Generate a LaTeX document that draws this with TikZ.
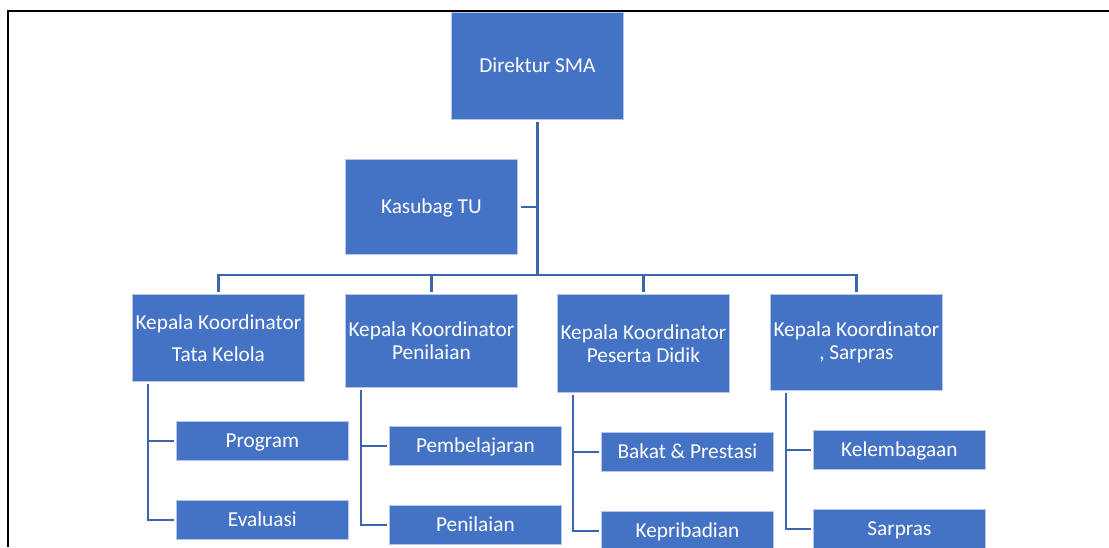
\documentclass[tikz,border=0pt]{standalone}
\usepackage{fontspec}
\setmainfont{Carlito}
\usepackage{tikz}
\definecolor{boxblue}{HTML}{4472C4}
\definecolor{boxedge}{HTML}{B4C7E7}
\definecolor{linkblue}{HTML}{3E64AE}
\tikzstyle{orgbox} = [rectangle,fill=boxblue,draw=boxedge,line width=0.8pt,text=white,align=center,
    inner sep=0pt,minimum width=172pt,anchor=north west,font=\fontsize{21.3pt}{23pt}\selectfont
]
\tikzstyle{oneline} = [orgbox,text height=16pt,text depth=3.5pt]
\tikzstyle{kidbox} = [oneline,minimum height=39pt]
\tikzstyle{link} = [draw=linkblue,line width=2.6pt,line cap=rect]
\newcommand{\kidlinks}[3]{
    \draw[link] ([xshift=16pt,yshift=-3pt]#1.south west) |- ([xshift=-3pt]#3.west);
    \draw[link] ([xshift=16pt]#1.south west |- #2.west) -- ([xshift=-3pt]#2.west);
}

\begin{document}
\begin{tikzpicture}[x=1pt,y=-1pt]
	\clip (0,0) rectangle (1109,547);
	\draw[line width=1.4pt] (8,547) |- (1109,11);
	
	\node(direktur) at (451,12) [oneline, minimum height=107pt] {Direktur SMA};
	\node(kasubag) at (345,159) [oneline, minimum height=95pt] {Kasubag TU};
	
	\node(kotatakelola) at (132,294) [orgbox, minimum height=87pt] {Kepala Koordinator\\[9pt]Tata Kelola};
	\node(kopenilaian) at (345,294) [orgbox, minimum height=93pt] {Kepala Koordinator\\Penilaian};
	\node(kopeserta) at (557,294) [orgbox, minimum height=98pt] {Kepala Koordinator\\Peserta Didik};
	\node(kosarpras) at (770,294) [orgbox, minimum height=96pt] {Kepala Koordinator\\, Sarpras};
	
	\node(program) at (176,421) [kidbox] {Program};
	\node(evaluasi) at (176,500) [kidbox] {Evaluasi};
	\node(pembelajaran) at (389,426) [kidbox] {Pembelajaran};
	\node(penilaian) at (389,505) [kidbox] {Penilaian};
	\node(bakat) at (601,432) [kidbox] {Bakat \& Prestasi};
	\node(kepribadian) at (601,511) [kidbox] {Kepribadian};
	\node(kelembagaan) at (813,430) [kidbox] {Kelembagaan};
	\node(sarpras) at (813,509) [kidbox] {Sarpras};
	
	\coordinate(bus) at (0,275);
	\draw[link] ([yshift=-3pt]direktur.south) -- (direktur.south |- bus);
	\draw[link] ([xshift=4pt]kasubag.east) -- (kasubag.east -| direktur.south);
	\draw[link] (kotatakelola.north |- bus) -- (kosarpras.north |- bus);
	\foreach \k in {kotatakelola,kopenilaian,kopeserta,kosarpras}
		\draw[link] (\k.north |- bus) -- ([yshift=3pt]\k.north);
	
	\kidlinks{kotatakelola}{program}{evaluasi};
	\kidlinks{kopenilaian}{pembelajaran}{penilaian};
	\kidlinks{kopeserta}{bakat}{kepribadian};
	\kidlinks{kosarpras}{kelembagaan}{sarpras};
\end{tikzpicture}
\end{document}
